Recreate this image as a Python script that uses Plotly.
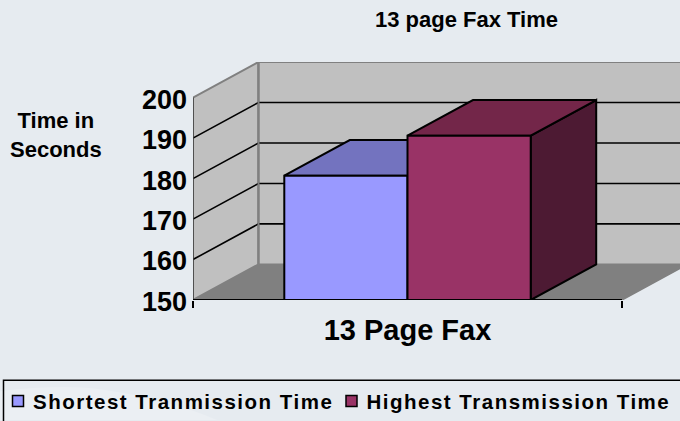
import plotly.graph_objects as go

# ---- data ----
category = "13 Page Fax"
series_names = ["Shortest Tranmission Time", "Highest Transmission Time"]
series_values = [180.7, 190.6]
y_ticks = [150, 160, 170, 180, 190, 200]

front_colors = ["#9999FF", "#993366"]
top_colors = ["#7373BF", "#732649"]
side_colors = ["#4D4D80", "#4D1A33"]

# ---- oblique projection parameters, in axis units ----
W, H = 680, 421
px_left, px_right_axis, px_base, px_top = 193.0, 622.0, 300.5, 61.7
depth_x = 65.5 / (px_right_axis - px_left)
depth_y = 8.8
y0, y1 = y_ticks[0], y_ticks[-1]
x_max = (W - px_left) / (px_right_axis - px_left)
gap = 0.2128
bar_w = (1 - 2 * gap) / len(series_values)

FONT = "Liberation Sans, Arial, sans-serif"
fig = go.Figure()


def poly(xs, ys, fill=None, line="black", lw=2):
    fig.add_trace(go.Scatter(
        x=xs, y=ys, mode="lines", showlegend=False, hoverinfo="skip", cliponaxis=False,
        fill="toself" if fill else "none", fillcolor=fill,
        line=dict(color=line, width=lw),
    ))


# floor
poly([0, 1, 1 + depth_x, depth_x, 0], [y0, y0, y0 + depth_y, y0 + depth_y, y0], "#808080", "#808080", 1.5)
# left wall and back wall
poly([0, depth_x, depth_x, 0, 0], [y0, y0 + depth_y, y1 + depth_y, y1, y0], "#C0C0C0", "#808080", 2)
poly([depth_x, 1 + depth_x, 1 + depth_x, depth_x, depth_x],
     [y0 + depth_y, y0 + depth_y, y1 + depth_y, y1 + depth_y, y0 + depth_y], "#C0C0C0", "#808080", 2)
# gridlines
for v in y_ticks[1:-1]:
    poly([0, depth_x, 1 + depth_x], [v, v + depth_y, v + depth_y], None, "black", 1.6)
# wall corner, on top of gridlines
poly([depth_x, depth_x], [y0 + depth_y, y1 + depth_y], None, "#808080", 2)
# front edge of left wall
poly([0, 0], [y0, y1], None, "#404040", 1.5)

# bars
for i, (val, ftop, fside, ffront) in enumerate(zip(series_values, top_colors, side_colors, front_colors)):
    xa = gap + i * bar_w
    xb = xa + bar_w
    poly([xb, xb + depth_x, xb + depth_x, xb, xb], [y0, y0 + depth_y, val + depth_y, val, y0], fside, "black", 2)
    poly([xa, xb, xb + depth_x, xa + depth_x, xa], [val, val, val + depth_y, val + depth_y, val], ftop, "black", 2)
    poly([xa, xb, xb, xa, xa], [y0, y0, val, val, y0], ffront, "black", 2)

# category axis line
poly([0, 1], [y0, y0], None, "black", 2)

# legend entries
for name, col in zip(series_names, front_colors):
    fig.add_trace(go.Scatter(
        x=[None], y=[None], mode="markers", name=name,
        marker=dict(symbol="square", size=11, color=col, line=dict(color="black", width=1.5)),
    ))

pw, ph = W - px_left, px_base - px_top


def px(xp):
    return (xp - px_left) / pw


def py(yp):
    return (px_base - yp) / ph


swoosh = "M{},{} Q{},{} {},{} Q{},{} {},{} L{},{} Z".format(
    px(0), py(392), px(60), py(385), px(100), py(390), px(170), py(400), px(217), py(421), px(0), py(421))

fig.update_layout(
    width=W, height=H, autosize=False,
    margin=dict(l=px_left, r=0, t=px_top, b=H - px_base, pad=0, autoexpand=False),
    paper_bgcolor="#E6EBF0", plot_bgcolor="rgba(0,0,0,0)",
    font=dict(family=FONT, color="black"),
    xaxis=dict(
        range=[0, x_max], showgrid=False, zeroline=False, showline=False, automargin=False,
        tickmode="array", tickvals=[0.5], ticktext=[category], ticks="",
        tickfont=dict(size=29, family=FONT, weight="bold"), ticklabelstandoff=10,
        minor=dict(tickmode="array", tickvals=[0, 1], ticks="outside", ticklen=7, tickwidth=1.5, tickcolor="black"),
    ),
    yaxis=dict(
        range=[y0, y1 + depth_y], showgrid=False, zeroline=False, showline=False, automargin=False,
        tickmode="array", tickvals=y_ticks, ticks="", ticklabelstandoff=5,
        tickfont=dict(size=27, family=FONT, weight="bold"),
    ),
    legend=dict(
        orientation="h", x=px(-2), y=py(382), xanchor="left", yanchor="top",
        bgcolor="rgba(0,0,0,0)", borderwidth=0, entrywidthmode="pixels", entrywidth=288.5,
        font=dict(size=20.5, family=FONT, weight="bold"), itemclick=False, itemdoubleclick=False,
    ),
    shapes=[
        dict(type="path", xref="paper", yref="paper", path=swoosh, layer="below",
             fillcolor="#EBEFF3", line=dict(width=0)),
        dict(type="rect", xref="paper", yref="paper", x0=px(3.5), x1=px(700), y0=py(381), y1=py(440),
             line=dict(color="black", width=1.5), fillcolor="rgba(0,0,0,0)"),
    ],
    annotations=[
        dict(text="13 page Fax Time", xref="paper", yref="paper", x=px(466.5), y=py(19), showarrow=False,
             xanchor="center", yanchor="middle", font=dict(size=22, family=FONT, weight="bold")),
        dict(text="Time in<br>Seconds", xref="paper", yref="paper", x=px(55.5), y=py(135), showarrow=False,
             xanchor="center", yanchor="middle", align="center", font=dict(size=22, family=FONT, weight="bold")),
    ],
)

post = """
var s=document.createElement('style');
s.textContent='.legendtext{letter-spacing:1.5px;transform:translateX(-5px);}'
  + '.legend .scrollbox{clip-path:none !important;}'
  + '.ytick{transform:translateY(1.5px);}';
document.head.appendChild(s);
document.body.style.margin='0';
"""
fig.write_html("out.html", post_script=post, config=dict(displayModeBar=False))
